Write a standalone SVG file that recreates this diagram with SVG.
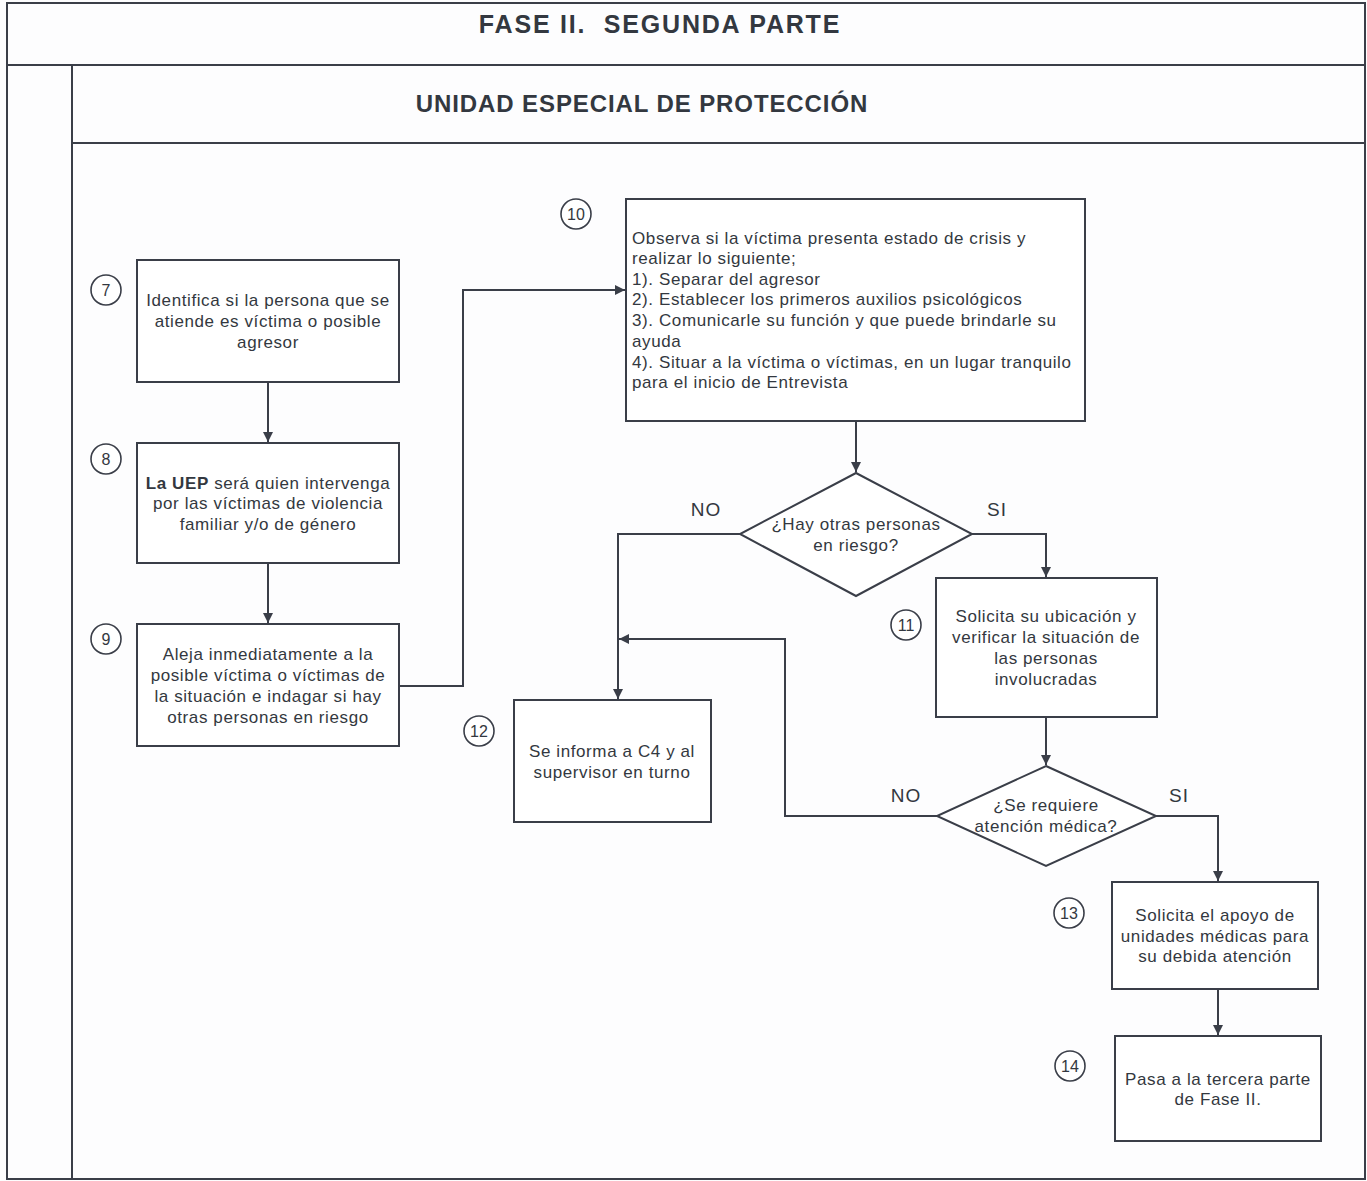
<svg xmlns="http://www.w3.org/2000/svg" width="1367" height="1181" viewBox="0 0 1367 1181">
<defs>
<marker id="ah" viewBox="0 0 10 10" refX="10" refY="5" markerWidth="10" markerHeight="10" markerUnits="userSpaceOnUse" orient="auto">
<path d="M0,0 L10,5 L0,10 z" fill="#3a3e48"/>
</marker>
<style>
.frame{fill:none;stroke:#3a3e48;stroke-width:2}
.box{fill:#fff;stroke:#3a3e48;stroke-width:2}
.num{fill:#fff;stroke:#3a3e48;stroke-width:1.6}
.t{font-family:"Liberation Sans",Arial,sans-serif;font-size:17px;letter-spacing:0.6px;fill:#333840}
.c{text-anchor:middle}
.lbl{font-family:"Liberation Sans",Arial,sans-serif;font-size:19px;letter-spacing:1px;fill:#333840;text-anchor:middle}
.n{font-family:"Liberation Sans",Arial,sans-serif;font-size:16px;fill:#333840;text-anchor:middle}
.h{font-family:"Liberation Sans",Arial,sans-serif;font-weight:bold;fill:#333840;text-anchor:middle;white-space:pre}
.con{fill:none;stroke:#3a3e48;stroke-width:2;marker-end:url(#ah)}
</style>
</defs>
<rect x="0" y="0" width="1367" height="1181" fill="#fdfdfe"/>
<g id="frame">
<rect class="frame" x="7" y="3" width="1358" height="1176"/>
<line class="frame" x1="7" y1="65" x2="1365" y2="65"/>
<line class="frame" x1="72" y1="65" x2="72" y2="1179"/>
<line class="frame" x1="72" y1="143" x2="1365" y2="143"/>
<text class="h" x="660" y="33" font-size="25" letter-spacing="1.8">FASE II.  SEGUNDA PARTE</text>
<text class="h" x="642" y="112" font-size="24" letter-spacing="0.9">UNIDAD ESPECIAL DE PROTECCIÓN</text>
</g>
<g id="connectors">
<line class="con" x1="268" y1="382" x2="268" y2="442"/>
<line class="con" x1="268" y1="563" x2="268" y2="623"/>
<polyline class="con" points="399,686 463,686 463,290 625,290"/>
<line class="con" x1="856" y1="421" x2="856" y2="472"/>
<polyline class="con" points="740,534 618,534 618,699"/>
<polyline class="con" points="972,534 1046,534 1046,577"/>
<line class="con" x1="1046" y1="717" x2="1046" y2="765"/>
<polyline class="con" points="937,816 785,816 785,639 619,639"/>
<polyline class="con" points="1156,816 1218,816 1218,881"/>
<line class="con" x1="1218" y1="989" x2="1218" y2="1035"/>
<text class="lbl" x="706" y="516">NO</text>
<text class="lbl" x="997" y="516">SI</text>
<text class="lbl" x="906" y="802">NO</text>
<text class="lbl" x="1179" y="802">SI</text>
</g>
<g id="n7">
<circle class="num" cx="106" cy="290" r="15"/><text class="n" x="106" y="296">7</text>
<rect class="box" x="137" y="260" width="262" height="122"/>
<text class="t c" x="268" y="306">Identifica si la persona que se</text>
<text class="t c" x="268" y="327">atiende es víctima o posible</text>
<text class="t c" x="268" y="348">agresor</text>
</g>
<g id="n8">
<circle class="num" cx="106" cy="459" r="15"/><text class="n" x="106" y="465">8</text>
<rect class="box" x="137" y="443" width="262" height="120"/>
<text class="t c" x="268" y="489"><tspan font-weight="bold">La UEP</tspan> será quien intervenga</text>
<text class="t c" x="268" y="509">por las víctimas de violencia</text>
<text class="t c" x="268" y="530">familiar y/o de género</text>
</g>
<g id="n9">
<circle class="num" cx="106" cy="639" r="15"/><text class="n" x="106" y="645">9</text>
<rect class="box" x="137" y="624" width="262" height="122"/>
<text class="t c" x="268" y="660">Aleja inmediatamente a la</text>
<text class="t c" x="268" y="681">posible víctima o víctimas de</text>
<text class="t c" x="268" y="702">la situación e indagar si hay</text>
<text class="t c" x="268" y="723">otras personas en riesgo</text>
</g>
<g id="n10">
<circle class="num" cx="576" cy="214" r="15"/><text class="n" x="576" y="220">10</text>
<rect class="box" x="626" y="199" width="459" height="222"/>
<text class="t" x="632" y="244">Observa si la víctima presenta estado de crisis y</text>
<text class="t" x="632" y="264">realizar lo siguiente;</text>
<text class="t" x="632" y="285">1). Separar del agresor</text>
<text class="t" x="632" y="305">2). Establecer los primeros auxilios psicológicos</text>
<text class="t" x="632" y="326">3). Comunicarle su función y que puede brindarle su</text>
<text class="t" x="632" y="347">ayuda</text>
<text class="t" x="632" y="368">4). Situar a la víctima o víctimas, en un lugar tranquilo</text>
<text class="t" x="632" y="388">para el inicio de Entrevista</text>
</g>
<g id="d1">
<polygon class="box" points="856,473 972,534 856,596 740,534"/>
<text class="t c" x="856" y="530">¿Hay otras personas</text>
<text class="t c" x="856" y="551">en riesgo?</text>
</g>
<g id="n11">
<circle class="num" cx="906" cy="625" r="15"/><text class="n" x="906" y="631">11</text>
<rect class="box" x="936" y="578" width="221" height="139"/>
<text class="t c" x="1046" y="622">Solicita su ubicación y</text>
<text class="t c" x="1046" y="643">verificar la situación de</text>
<text class="t c" x="1046" y="664">las personas</text>
<text class="t c" x="1046" y="685">involucradas</text>
</g>
<g id="d2">
<polygon class="box" points="1046,766 1156,816 1046,866 937,816"/>
<text class="t c" x="1046" y="811">¿Se requiere</text>
<text class="t c" x="1046" y="832">atención médica?</text>
</g>
<g id="n12">
<circle class="num" cx="479" cy="731" r="15"/><text class="n" x="479" y="737">12</text>
<rect class="box" x="514" y="700" width="197" height="122"/>
<text class="t c" x="612" y="757">Se informa a C4 y al</text>
<text class="t c" x="612" y="778">supervisor en turno</text>
</g>
<g id="n13">
<circle class="num" cx="1069" cy="913" r="15"/><text class="n" x="1069" y="919">13</text>
<rect class="box" x="1112" y="882" width="206" height="107"/>
<text class="t c" x="1215" y="921">Solicita el apoyo de</text>
<text class="t c" x="1215" y="942">unidades médicas para</text>
<text class="t c" x="1215" y="962">su debida atención</text>
</g>
<g id="n14">
<circle class="num" cx="1070" cy="1066" r="15"/><text class="n" x="1070" y="1072">14</text>
<rect class="box" x="1115" y="1036" width="206" height="105"/>
<text class="t c" x="1218" y="1085">Pasa a la tercera parte</text>
<text class="t c" x="1218" y="1105">de Fase II.</text>
</g>
</svg>
